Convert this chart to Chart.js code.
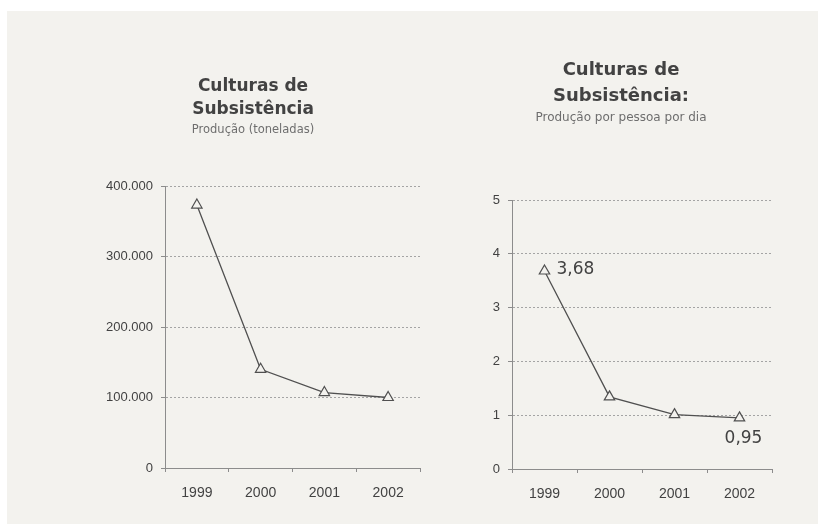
<!DOCTYPE html>
<html>
<head>
<meta charset="utf-8">
<script src="https://cdn.jsdelivr.net/npm/chart.js@4/dist/chart.umd.min.js"></script>
<style>
  html, body { margin: 0; padding: 0; background: #ffffff; }
  #page { position: absolute; left: 7px; top: 11px; width: 811px; height: 513px; background: #f3f2ee; }
  canvas { position: absolute; top: 0; }
  #prodChart { left: 86px; }
  #perCapChart { left: 470px; }
</style>
</head>
<body>
<div id="page"></div>
<canvas id="prodChart" width="336" height="524"></canvas>
<canvas id="perCapChart" width="306" height="524"></canvas>
<script>
// Years shown on both charts
const years = ['1999', '2000', '2001', '2002'];

// Subsistence crops: total production (tonnes)
const productionTonnes = [373000, 140000, 107000, 100000];

// Subsistence crops: production per person per day
const perPersonPerDay = [3.68, 1.34, 1.01, 0.95];

// Value axis ticks
const productionTicks = [0, 100000, 200000, 300000, 400000];
const perPersonTicks = [0, 1, 2, 3, 4, 5];

// Points on the per-person chart that carry a value label
const labelledPoints = [0, 3];

const INK = '#424242';
const AXIS = '#8c8c8c';
const GRID = '#a4a4a4';
const PAPER = '#f3f2ee';

function thousands(v) {
  return String(Math.round(v)).replace(/\B(?=(\d{3})+(?!\d))/g, '.');
}

function fixedWidth(w) { return scale => { scale.width = w; }; }
// Fixed axis height; end labels sit inside their categories, so no side padding
function fixedHeight(h) {
  return scale => { scale.height = h; scale.paddingLeft = 0; scale.paddingRight = 0; };
}

function lineDataset(values) {
  return {
    data: values,
    borderColor: '#505050',
    borderWidth: 1.3,
    tension: 0,
    pointStyle: 'triangle',
    pointRadius: 6,
    pointHoverRadius: 6,
    pointBackgroundColor: PAPER,
    pointBorderColor: '#505050',
    pointBorderWidth: 1.2
  };
}

function buildScales(ticks, yWidth, xHeight, fmt) {
  return {
    x: {
      offset: true,
      afterFit: fixedHeight(xHeight),
      grid: { drawOnChartArea: false, offset: true, tickLength: 4, color: AXIS, tickColor: AXIS },
      border: { color: AXIS, width: 1 },
      ticks: { color: INK, padding: 13, font: { family: 'Liberation Sans', size: 14 } }
    },
    y: {
      min: ticks[0],
      max: ticks[ticks.length - 1],
      afterFit: fixedWidth(yWidth),
      afterBuildTicks: scale => { scale.ticks = ticks.map(v => ({ value: v })); },
      grid: { color: GRID, lineWidth: 1, tickLength: 4, tickColor: AXIS, tickBorderDash: [] },
      border: { color: AXIS, width: 1, dash: [2, 2] },
      ticks: { color: INK, padding: 8, font: { family: 'Liberation Sans', size: 13 }, callback: fmt }
    }
  };
}

// Writes the value next to selected points, e.g. "3,68"
const valueLabels = {
  id: 'valueLabels',
  afterDatasetsDraw(chart, args, opts) {
    if (!opts.indices) return;
    const meta = chart.getDatasetMeta(0);
    const ds = chart.data.datasets[0];
    const ctx = chart.ctx;
    ctx.save();
    ctx.fillStyle = INK;
    ctx.font = '17px "DejaVu Sans"';
    opts.indices.forEach(i => {
      const pt = meta.data[i];
      const txt = ds.data[i].toFixed(2).replace('.', ',');
      ctx.textBaseline = 'middle';
      if (i === 0) {
        ctx.textAlign = 'left';
        ctx.fillText(txt, pt.x + 12, pt.y - 1);
      } else {
        ctx.textAlign = 'center';
        ctx.fillText(txt, pt.x + 4, pt.y + 21);
      }
    });
    ctx.restore();
  }
};

Chart.register(valueLabels);

new Chart(document.getElementById('prodChart'), {
  type: 'line',
  data: { labels: years, datasets: [lineDataset(productionTonnes)] },
  options: {
    responsive: false,
    animation: false,
    devicePixelRatio: 1,
    layout: { autoPadding: false, padding: { top: 0, left: 0, right: 2, bottom: 0 } },
    scales: buildScales(productionTicks, 79, 56, v => thousands(v)),
    plugins: {
      legend: { display: false },
      tooltip: { enabled: false },
      title: {
        display: true,
        text: ['Culturas de', 'Subsistência'],
        color: INK,
        font: { family: 'DejaVu Sans', size: 17, weight: 'bold', lineHeight: '23px' },
        padding: { top: 74.6, bottom: 0 }
      },
      subtitle: {
        display: true,
        text: 'Produção (toneladas)',
        color: '#6e6e6e',
        font: { family: 'DejaVu Sans', size: 11.5, lineHeight: '12px' },
        padding: { top: 3.4, bottom: 50 }
      },
      valueLabels: {}
    }
  }
});

new Chart(document.getElementById('perCapChart'), {
  type: 'line',
  data: { labels: years, datasets: [lineDataset(perPersonPerDay)] },
  options: {
    responsive: false,
    animation: false,
    devicePixelRatio: 1,
    layout: { autoPadding: false, padding: { top: 0, left: 0, right: 4, bottom: 0 } },
    scales: buildScales(perPersonTicks, 42, 55, v => String(v)),
    plugins: {
      legend: { display: false },
      tooltip: { enabled: false },
      title: {
        display: true,
        text: ['Culturas de', 'Subsistência:'],
        color: INK,
        font: { family: 'DejaVu Sans', size: 18, weight: 'bold', lineHeight: '26px' },
        padding: { top: 57.8, bottom: 0 }
      },
      subtitle: {
        display: true,
        text: 'Produção por pessoa por dia',
        color: '#6e6e6e',
        font: { family: 'DejaVu Sans', size: 12, lineHeight: '12px' },
        padding: { top: 2, bottom: 76.2 }
      },
      valueLabels: { indices: labelledPoints }
    }
  }
});
</script>
</body>
</html>
